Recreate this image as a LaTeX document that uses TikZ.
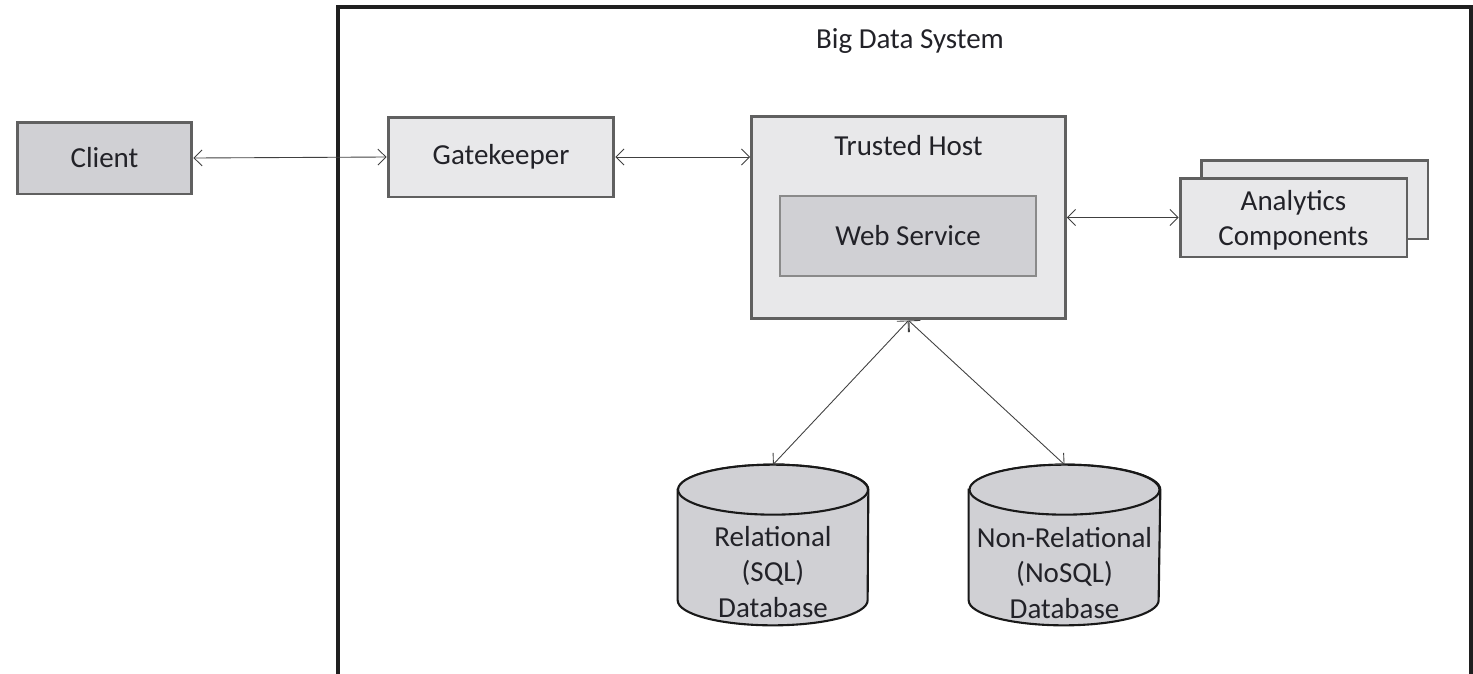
\documentclass[tikz,border=0pt]{standalone}
\usepackage{fontspec}
\setmainfont{Carlito}
\usetikzlibrary{arrows.meta,backgrounds}
\definecolor{boxlight}{HTML}{E8E8EA}
\definecolor{boxmid}{HTML}{D0D0D4}
\definecolor{boxline}{HTML}{606060}
\definecolor{wsline}{HTML}{8A8A8A}
\definecolor{txt}{HTML}{222228}
\tikzset{
  every node/.style={font=\fontsize{16.5}{20}\selectfont, text=txt, align=center},
  gbox/.style={draw=boxline, line width=1.7pt, inner sep=0pt},
  link/.style={draw=black!75, line width=0.5pt, {Straight Barb[length=1.6mm,width=3.2mm]}-{Straight Barb[length=1.6mm,width=3.2mm]}},
  dbline/.style={draw=black!90, line width=1.2pt, fill=boxmid}
}
\begin{document}
\begin{tikzpicture}[x=0.02cm,y=-0.02cm]
                \useasboundingbox (0,0) rectangle (1473,673);
                \clip (0,0) rectangle (1473,673);

                % Drawing system frame
                \draw [line width=2.3pt, color=black!88] (338,690) -- (338,7) -- (1471,7) -- (1471,690);%
                \node (title) at (910,41) {Big Data System};%

                % Drawing client
                \node [gbox, fill=boxmid, minimum width=3.5cm, minimum height=1.44cm] (client) at (104.5,158) {Client};%

                % Drawing gatekeeper
                \node [gbox, fill=boxlight, minimum width=4.52cm, minimum height=1.6cm] (gate) at (501,157) {Gatekeeper};%

                % Drawing trusted host
                \node [gbox, fill=boxlight, minimum width=6.28cm, minimum height=4.06cm] (host) at (908.5,217.5) {};%
                \node [below=0.3cm] (hostlabel) at (host.north) {Trusted Host};%
                \node [draw=wsline, line width=1.4pt, fill=boxmid, inner sep=0pt, minimum width=5.12cm, minimum height=1.6cm] (web) at (908,236) {\raisebox{-3pt}{Web Service}};%

                % Drawing analytics components
                \node [gbox, fill=boxlight, minimum width=4.54cm, minimum height=1.58cm] (anaback) at (1314.5,199.5) {};%
                \node [gbox, fill=boxlight, minimum width=4.54cm, minimum height=1.58cm] (ana) at (1293.5,217.5) {};%
                \node (analabel) at (1293.5,220) {Analytics\\Components};%

                % Drawing databases
                \node [minimum width=3.8cm, minimum height=3.2cm, inner sep=0pt] (sql) at (773,545) {};%
                \node [minimum width=3.82cm, minimum height=3.2cm, inner sep=0pt] (nosql) at (1064.5,545) {};%
                \node (sqllabel) at (773,572) {Relational\\(SQL)\\Database};%
                \node (nosqllabel) at (1064.5,573) {Non-Relational\\(NoSQL)\\Database};%
                \begin{scope}[on background layer]
                \foreach \db in {sql,nosql} {
                  \draw [dbline] ([yshift=-0.5cm]\db.north west) -- ([yshift=0.5cm]\db.south west)
                    arc [start angle=180, end angle=360, x radius=1.9cm, y radius=0.5cm]
                    -- ([yshift=-0.5cm]\db.north east)
                    arc [start angle=0, end angle=180, x radius=1.9cm, y radius=0.5cm] -- cycle;%
                  \draw [dbline] ([yshift=-0.5cm]\db.north) ellipse [x radius=1.9cm, y radius=0.5cm];%
                }
                \end{scope}

                % Drawing connectors
                \draw [link] (client.east) -- (gate.west);%
                \draw [link] (gate.east) -- (gate.east -| host.west);%
                \draw [link] (host.east) -- (ana.west);%
                \draw [link] (host.south) -- (sql.north);%
                \draw [link] (host.south) -- (nosql.north);%
\end{tikzpicture}
\end{document}
